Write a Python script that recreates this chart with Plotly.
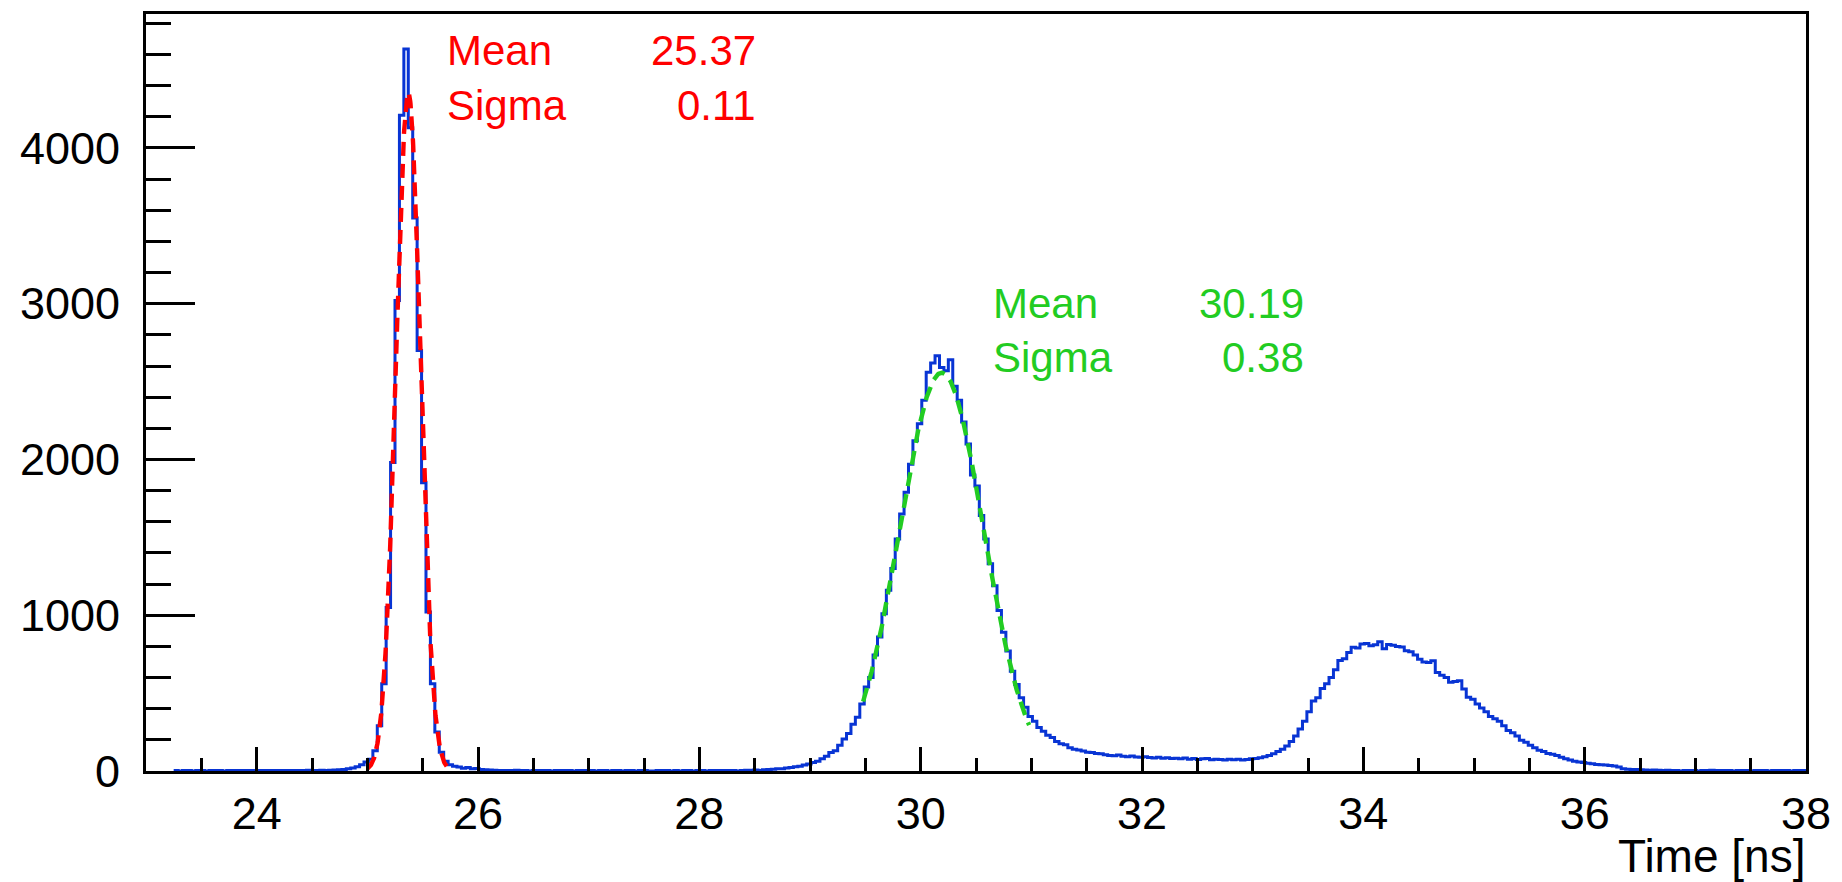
import numpy as np
import plotly.graph_objects as go

# Histogram binning (ns)
t_start = 23.25
bin_width = 0.04

# Counts per bin, 25 bins per nanosecond starting at 23.25 ns
counts = [
    # 23.25 - 24.25
    3, 0, 4, 3, 0, 4, 3, 0, 3, 4, 3, 0, 4, 3, 4, 3, 3, 4, 3, 4, 3, 3, 4, 3, 4,
    # 24.25 - 25.25
    4, 3, 4, 4, 3, 5, 4, 4, 5, 4, 5, 6, 8, 10, 14, 20, 28, 40, 58, 75, 130, 290, 560, 1050, 1980,
    # 25.25 - 26.25
    3020, 4210, 4636, 4130, 3550, 2700, 1850, 1020, 560, 250, 120, 62, 40, 30, 26, 18, 22, 14, 16, 9, 8, 6, 5, 4, 3,
    # 26.25 - 27.25
    4, 3, 5, 3, 4, 0, 3, 4, 3, 3, 0, 4, 3, 3, 4, 0, 3, 3, 4, 3, 0, 3, 4, 0, 3,
    # 27.25 - 28.25
    3, 0, 4, 3, 0, 3, 4, 0, 0, 3, 4, 3, 0, 3, 0, 4, 3, 0, 4, 3, 0, 3, 4, 3, 4,
    # 28.25 - 29.25
    4, 3, 0, 4, 5, 5, 6, 3, 8, 10, 12, 15, 14, 20, 22, 27, 30, 38, 45, 55, 62, 78, 95, 118, 130,
    # 29.25 - 30.25
    165, 205, 240, 300, 345, 430, 540, 600, 745, 860, 1010, 1160, 1300, 1490, 1650, 1790, 1970, 2120, 2230, 2380,
    2560, 2620, 2666, 2590, 2570,
    # 30.25 - 31.25
    2640, 2470, 2380, 2240, 2100, 1900, 1830, 1640, 1490, 1330, 1190, 1030, 890, 770, 640, 555, 470, 410, 350, 320,
    280, 255, 230, 215, 190,
    # 31.25 - 32.25
    175, 168, 150, 140, 135, 128, 120, 118, 112, 110, 104, 100, 98, 102, 95, 92, 96, 90, 88, 92, 86, 84, 88, 82, 85,
    # 32.25 - 33.25
    80, 82, 78, 84, 76, 80, 74, 78, 80, 72, 76, 74, 70, 75, 72, 76, 70, 74, 78, 80, 85, 92, 100, 110, 125,
    # 33.25 - 34.25
    140, 160, 190, 225, 270, 320, 380, 450, 470, 530, 560, 600, 650, 710, 720, 760, 795, 790, 815, 818,
    804, 810, 830, 785, 812,
    # 34.25 - 35.25
    808, 800, 796, 772, 765, 745, 718, 700, 697, 708, 633, 615, 601, 570, 575, 580, 527, 474, 460, 430,
    405, 380, 350, 335, 320,
    # 35.25 - 36.25
    290, 260, 245, 225, 198, 185, 165, 150, 134, 125, 112, 108, 100, 88, 78, 70, 62, 58, 55, 50, 46, 42, 40, 38, 36,
    # 36.25 - 37.25
    32, 25, 14, 12, 10, 9, 8, 6, 5, 6, 5, 4, 5, 3, 4, 0, 3, 4, 3, 0, 4, 3, 5, 4, 3,
    # 37.25 - 38.01
    4, 3, 0, 3, 4, 3, 0, 4, 3, 3, 0, 4, 3, 4, 3, 0, 3, 4, 3,
]

# Gaussian fit results
fit1_mean, fit1_sigma, fit1_amp = 25.37, 0.11, 4356
fit1_range = (25.0, 25.72)
fit2_mean, fit2_sigma, fit2_amp = 30.19, 0.38, 2557
fit2_range = (29.48, 30.98)

x_range = [23.0, 38.0]
y_range = [0, 4860]

edges = t_start + bin_width * np.arange(len(counts) + 1)
step_y = list(counts) + [counts[-1]]

blue = "#0834d4"
red = "#ff0000"
green = "#22cc22"
font_family = "Liberation Sans, Arial, sans-serif"


def gauss_curve(mean, sigma, amp, lo, hi):
    xs = np.linspace(lo, hi, 300)
    return xs, amp * np.exp(-0.5 * ((xs - mean) / sigma) ** 2)


fig = go.Figure()
fig.add_trace(go.Scatter(
    x=edges, y=step_y, mode="lines", line=dict(color=blue, width=3, shape="hv"),
    hoverinfo="skip",
))
for (m, s, a, rng, col) in [
    (fit1_mean, fit1_sigma, fit1_amp, fit1_range, red),
    (fit2_mean, fit2_sigma, fit2_amp, fit2_range, green),
]:
    gx, gy = gauss_curve(m, s, a, *rng)
    fig.add_trace(go.Scatter(
        x=gx, y=gy, mode="lines",
        line=dict(color=col, width=4.4, dash="14px,8px"),
        hoverinfo="skip",
    ))

axis_common = dict(
    showline=True, linecolor="black", linewidth=3, mirror=True,
    showgrid=False, zeroline=False, ticks="inside", tickcolor="black",
    tickwidth=3, layer="above traces",
    tickfont=dict(family=font_family, size=45, color="black"),
)

fig.update_xaxes(
    range=x_range, tickmode="linear", tick0=24, dtick=2, ticklen=24,
    ticklabelstandoff=1,
    minor=dict(ticks="inside", ticklen=13, tickwidth=3, tickcolor="black",
               tick0=23, dtick=0.5, showgrid=False),
    **axis_common,
)
fig.update_yaxes(
    range=y_range, tickmode="linear", tick0=0, dtick=1000, ticklen=49,
    tickformat="d", ticklabelstandoff=14,
    minor=dict(ticks="inside", ticklen=25, tickwidth=3, tickcolor="black",
               tick0=0, dtick=200, showgrid=False),
    **axis_common,
)

annotations = []


def stat_box(x_label, x_value, y_top, y_bottom, color, mean, sigma):
    rows = [("Mean", f"{mean:.2f}", y_top), ("Sigma", f"{sigma:.2f}", y_bottom)]
    for name, val, yy in rows:
        annotations.append(dict(x=x_label, y=yy, xref="paper", yref="paper", text=name,
                                xanchor="left", yanchor="middle", showarrow=False,
                                font=dict(family=font_family, size=42, color=color)))
        annotations.append(dict(x=x_value, y=yy, xref="paper", yref="paper", text=val,
                                xanchor="right", yanchor="middle", showarrow=False,
                                font=dict(family=font_family, size=42, color=color)))


stat_box(0.1800, 0.3685, 0.9513, 0.8789, red, fit1_mean, fit1_sigma)
stat_box(0.5092, 0.6990, 0.6180, 0.5456, green, fit2_mean, fit2_sigma)

annotations.append(dict(x=1.0, y=-0.1125, xref="paper", yref="paper", text="Time [ns]",
                        xanchor="right", yanchor="middle", showarrow=False, borderpad=0,
                        font=dict(family=font_family, size=46, color="black")))

fig.update_layout(
    width=1842, height=882,
    margin=dict(l=146, r=35, t=11, b=111),
    plot_bgcolor="white", paper_bgcolor="white",
    showlegend=False,
    annotations=annotations,
)

fig.write_html("out.html")
